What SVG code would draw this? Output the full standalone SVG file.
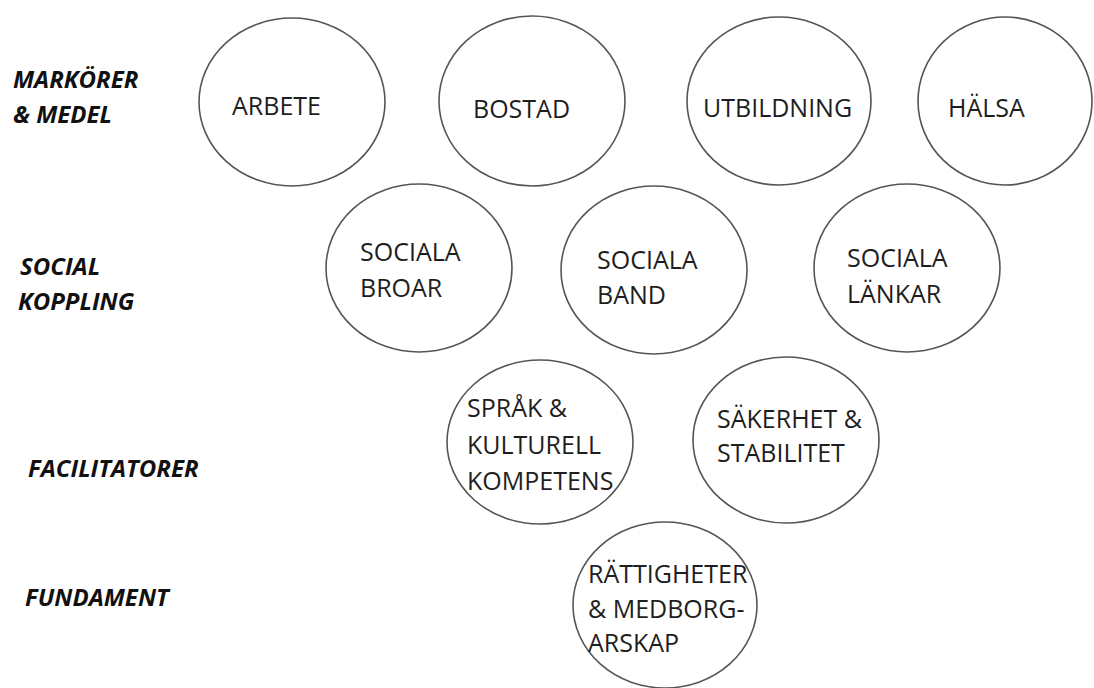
<svg xmlns="http://www.w3.org/2000/svg" width="1094" height="688" viewBox="0 0 1094 688">
<style>
.n ellipse{fill:#fff;stroke:#555;stroke-width:1.6}
.t{font-family:"Open Sans","Noto Sans",sans-serif;font-size:25px;fill:#1e1e1e}
.l{font-family:"Open Sans","Noto Sans",sans-serif;font-size:24px;font-weight:bold;font-style:italic;fill:#111}
</style>
<rect width="1094" height="688" fill="#fff"/>
<g id="labels">
<text class="l" x="13" y="88">MARKÖRER</text>
<text class="l" x="13" y="123">&amp; MEDEL</text>
<text class="l" x="20" y="275">SOCIAL</text>
<text class="l" x="18" y="310">KOPPLING</text>
<text class="l" x="28" y="477">FACILITATORER</text>
<text class="l" x="25" y="606">FUNDAMENT</text>
</g>
<g id="connectors"></g>
<g id="arbete" class="n"><ellipse cx="292" cy="102" rx="93" ry="84"/><text class="t" x="232" y="115">ARBETE</text></g>
<g id="bostad" class="n"><ellipse cx="532" cy="101" rx="93" ry="85"/><text class="t" x="473" y="118">BOSTAD</text></g>
<g id="utbildning" class="n"><ellipse cx="779" cy="101" rx="92" ry="84"/><text class="t" x="703" y="117">UTBILDNING</text></g>
<g id="halsa" class="n"><ellipse cx="1005" cy="101" rx="87" ry="84"/><text class="t" x="948" y="117">HÄLSA</text></g>
<g id="broar" class="n"><ellipse cx="419" cy="268" rx="93" ry="84"/><text class="t" x="360" y="261">SOCIALA</text><text class="t" x="360" y="297">BROAR</text></g>
<g id="band" class="n"><ellipse cx="654" cy="270" rx="93" ry="84"/><text class="t" x="597" y="269">SOCIALA</text><text class="t" x="597" y="304">BAND</text></g>
<g id="lankar" class="n"><ellipse cx="907" cy="268" rx="93" ry="84"/><text class="t" x="847" y="267">SOCIALA</text><text class="t" x="847" y="303">LÄNKAR</text></g>
<g id="sprak" class="n"><ellipse cx="540" cy="442" rx="93" ry="82"/><text class="t" x="467" y="417">SPRÅK &amp;</text><text class="t" x="467" y="454">KULTURELL</text><text class="t" x="467" y="490">KOMPETENS</text></g>
<g id="sakerhet" class="n"><ellipse cx="786" cy="440" rx="93" ry="83"/><text class="t" x="717" y="428">SÄKERHET &amp;</text><text class="t" x="717" y="462">STABILITET</text></g>
<g id="rattigheter" class="n"><ellipse cx="665" cy="605" rx="92" ry="83"/><text class="t" x="588" y="583">RÄTTIGHETER</text><text class="t" x="588" y="618">&amp; MEDBORG-</text><text class="t" x="588" y="652">ARSKAP</text></g>
</svg>
